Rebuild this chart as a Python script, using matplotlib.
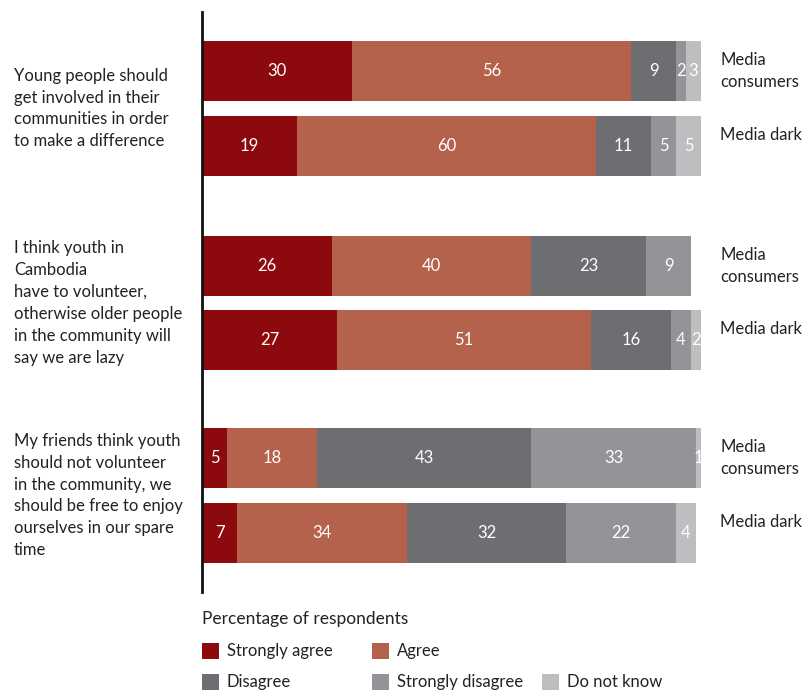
import matplotlib.pyplot as plt
from matplotlib.patches import Rectangle

plt.rcParams['font.family'] = ['Lato', 'DejaVu Sans']

questions = [
    "Young people should\nget involved in their\ncommunities in order\nto make a difference",
    "I think youth in\nCambodia\nhave to volunteer,\notherwise older people\nin the community will\nsay we are lazy",
    "My friends think youth\nshould not volunteer\nin the community, we\nshould be free to enjoy\nourselves in our spare\ntime",
]
groups = ["Media\nconsumers", "Media dark"]
categories = ["Strongly agree", "Agree", "Disagree", "Strongly disagree", "Do not know"]
colors = ["#8c0a0d", "#b5624d", "#6d6e72", "#939497", "#bdbec0"]

# one row per bar, top to bottom: q1 consumers, q1 dark, q2 consumers, ...
strongly_agree = [30, 19, 26, 27, 5, 7]
agree = [56, 60, 40, 51, 18, 34]
disagree = [9, 11, 23, 16, 43, 32]
strongly_disagree = [2, 5, 9, 4, 33, 22]
do_not_know = [3, 5, 0, 2, 1, 4]
series = [strongly_agree, agree, disagree, strongly_disagree, do_not_know]

W, H = 810, 693
fig = plt.figure(figsize=(W / 100, H / 100), dpi=100)
# axes spans the vertical line, x from bar start to 100%
ax = fig.add_axes([202 / W, 1 - 592 / H, 499 / W, 580 / H])

ypos = [71, 146, 266, 340, 458, 533]
left = [0] * len(ypos)
for name, vals, col in zip(categories, series, colors):
    bars = ax.barh(ypos, vals, left=left, height=60, color=col, linewidth=0)
    labels = [str(v) if v else "" for v in vals]
    ax.bar_label(bars, labels=labels, label_type='center', color='white', fontsize=12)
    left = [a + b for a, b in zip(left, vals)]

ax.set_xlim(0, 100)
ax.set_ylim(592, 12)
ax.set_xticks([])
ax.set_yticks([])
for s in ["top", "right", "bottom"]:
    ax.spines[s].set_visible(False)
ax.spines["left"].set_linewidth(2)
ax.spines["left"].set_color("#111111")

text_col = "#222222"
for i, q in enumerate(questions):
    yc = (ypos[2 * i] + ypos[2 * i + 1]) / 2
    fig.text(14 / W, 1 - yc / H, q, ha='left', va='center', fontsize=12,
             color=text_col, linespacing=1.45)
    fig.text(720 / W, 1 - ypos[2 * i] / H, groups[0], ha='left', va='center',
             fontsize=12, color=text_col, linespacing=1.45)
    fig.text(720 / W, 1 - (ypos[2 * i + 1] - 11) / H, groups[1], ha='left',
             va='center', fontsize=12, color=text_col)

fig.text(202 / W, 1 - 619 / H, "Percentage of respondents", ha='left', va='center',
         fontsize=12.5, color=text_col)

# legend: two rows, three columns
legend_pos = [(202, 651), (372, 651), (202, 682), (372, 682), (542, 682)]
for (x, y), name, col in zip(legend_pos, categories, colors):
    fig.add_artist(Rectangle((x / W, 1 - (y + 8) / H), 17 / W, 16 / H,
                             transform=fig.transFigure, color=col, lw=0))
    fig.text((x + 25) / W, 1 - y / H, name, ha='left', va='center',
             fontsize=12, color=text_col)

fig.savefig("out.png", dpi=100)
